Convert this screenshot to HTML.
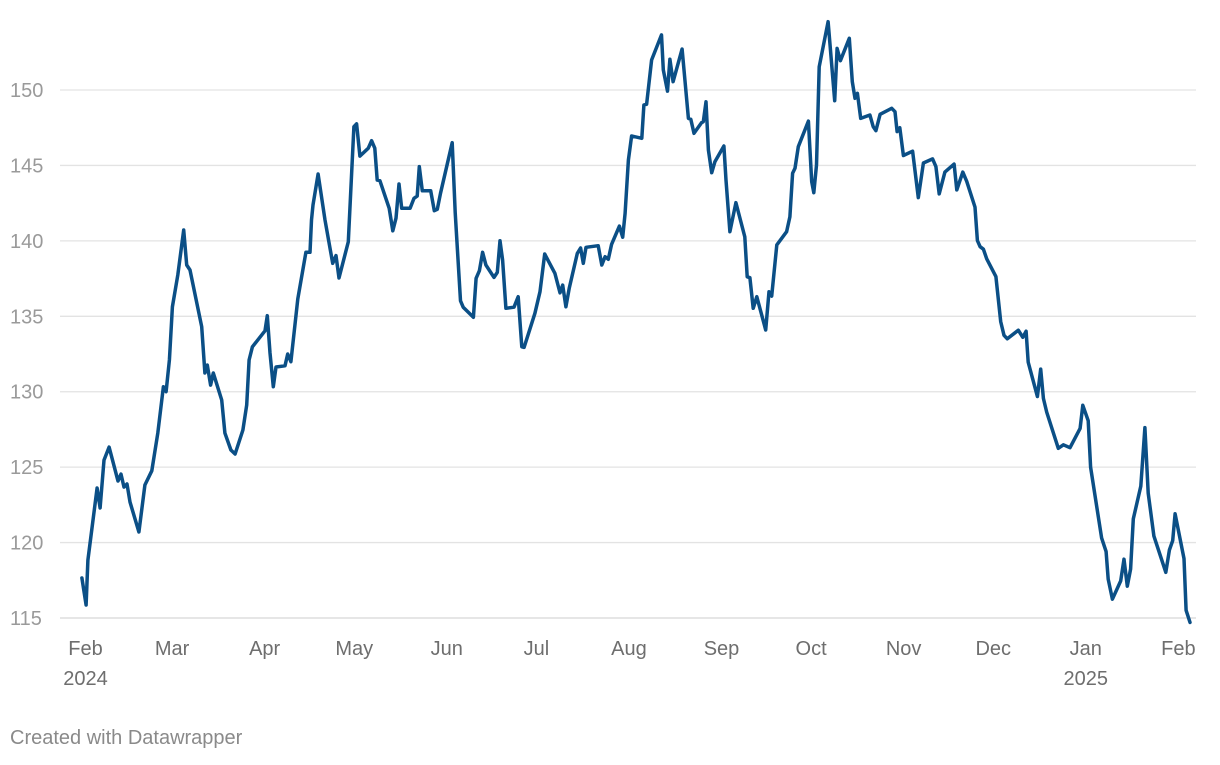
<!DOCTYPE html>
<html><head><meta charset="utf-8">
<style>
body{margin:0;background:#fff;width:1220px;height:760px;overflow:hidden;font-family:"Liberation Sans",Arial,sans-serif;}
svg text{font-family:"Liberation Sans",Arial,sans-serif;}
</style></head>
<body>
<svg id="chart" width="1220" height="760" xmlns="http://www.w3.org/2000/svg">
<g id="grid"></g>
<g id="yaxis"></g>
<g id="xaxis"></g>
<path id="line" fill="none" stroke="#0b4f86" stroke-width="3.5" stroke-linejoin="round" stroke-linecap="round"></path>
<text x="10" y="744" font-size="20" fill="#8a8a8a">Created with Datawrapper</text>
</svg>
<script>
// days since Feb 1 2024
const days = [-1.2,0.2,0.8,3.9,4.9,6.2,7.9,10.9,11.9,12.9,13.9,14.9,17.9,19.9,22.2,24.2,26.1,27.0,28.1,29.1,30.9,32.9,33.9,35.0,38.9,40.0,40.8,41.9,42.8,45.6,46.7,48.7,50.1,52.7,54.0,54.8,55.9,60.1,60.9,61.8,62.9,63.8,66.8,67.7,68.8,71.1,73.8,75.2,75.7,76.2,77.9,80.2,82.8,83.9,84.9,88.0,89.9,90.8,91.9,94.7,95.8,96.9,97.7,98.6,101.7,102.9,104.0,105.0,105.9,108.7,110.0,111.1,111.8,112.8,115.6,116.8,117.8,118.9,122.8,123.8,125.6,126.5,129.9,130.8,131.9,133.0,134.1,136.8,137.9,138.8,139.7,140.8,143.5,144.9,146.1,146.9,150.5,152.2,153.8,157.2,158.9,159.8,160.9,162.0,164.7,165.8,166.7,167.6,171.7,172.9,174.0,175.1,176.2,178.8,179.9,180.7,181.8,182.9,186.3,187.0,187.9,189.6,192.9,193.5,194.9,195.7,196.8,199.8,201.9,202.7,203.8,206.3,206.9,207.8,208.6,209.7,210.8,213.8,214.5,215.8,217.8,220.8,221.6,222.5,223.6,224.8,227.8,228.9,229.8,231.5,234.8,235.9,236.8,237.6,238.7,242.1,243.2,243.9,244.8,245.7,248.7,250.9,251.7,252.8,255.8,256.8,257.7,258.5,259.6,262.7,263.8,264.7,266.1,270.0,271.1,271.8,272.7,273.9,277.0,278.9,280.6,283.7,284.8,285.9,287.8,290.9,291.8,293.8,295.1,297.9,298.7,299.6,300.7,301.8,304.9,306.5,307.6,308.7,312.4,313.9,315.0,315.7,318.8,319.9,320.8,321.9,325.8,327.5,329.7,333.1,334.0,335.8,336.6,340.3,341.8,342.5,343.9,346.7,347.8,348.9,350.0,350.9,353.4,354.8,355.9,357.8,361.8,363.0,364.1,364.9,367.9,368.6,369.9];
const prices = [117.65,115.86,118.84,123.62,122.29,125.47,126.33,124.08,124.54,123.68,123.88,122.69,120.70,123.82,124.76,127.26,130.33,130.0,132.1,135.63,137.74,140.72,138.4,138.07,134.31,131.24,131.77,130.44,131.24,129.45,127.26,126.14,125.87,127.46,129.12,132.1,132.98,134.04,135.04,132.57,130.33,131.64,131.72,132.5,131.99,136.15,139.24,139.24,141.38,142.38,144.43,141.38,138.51,139.02,137.54,139.94,147.57,147.75,145.62,146.14,146.64,146.14,144.03,143.99,142.16,140.67,141.5,143.77,142.16,142.16,142.82,142.97,144.92,143.32,143.32,142.0,142.09,143.15,146.51,141.87,136.03,135.6,134.93,137.52,138.02,139.24,138.4,137.58,137.91,140.01,138.73,135.53,135.6,136.3,132.98,132.94,135.2,136.63,139.13,137.85,136.56,137.07,135.63,136.85,139.17,139.53,138.51,139.57,139.68,138.4,138.95,138.78,139.77,140.98,140.24,141.83,145.36,146.95,146.8,149.01,149.05,151.99,153.65,151.33,149.93,152.04,150.55,152.72,148.12,148.06,147.13,147.83,147.9,149.22,146.02,144.52,145.25,146.29,144.03,140.61,142.53,140.27,137.62,137.56,135.53,136.3,134.09,136.63,136.34,139.73,140.61,141.6,144.48,144.81,146.24,147.94,143.92,143.19,145.03,151.54,154.53,149.29,152.76,151.94,153.43,150.55,149.45,149.78,148.12,148.34,147.57,147.3,148.39,148.79,148.56,147.24,147.5,145.66,145.94,142.87,145.16,145.43,144.92,143.11,144.56,145.09,143.38,144.56,143.95,142.24,140.02,139.61,139.45,138.81,137.63,134.65,133.74,133.51,134.08,133.61,134.01,131.96,129.68,131.5,129.56,128.65,126.25,126.48,126.29,127.57,129.1,128.08,125.0,120.31,119.4,117.57,116.25,117.46,118.9,117.11,118.25,121.57,123.74,127.62,123.28,120.43,118.03,119.51,120.13,121.91,118.94,115.51,114.71];
const yTicks = [115,120,125,130,135,140,145,150];
const monthDays = [0,29,60,90,121,151,182,213,243,274,304,335,366];
const monthLabels = ["Feb","Mar","Apr","May","Jun","Jul","Aug","Sep","Oct","Nov","Dec","Jan","Feb"];
const yearLabels = {0:"2024",11:"2025"};

const NS = "http://www.w3.org/2000/svg";
const x = d => 85.5 + d * 2.986;
const y = v => 90 + (150 - v) * 15.086;

const grid = document.getElementById('grid');
const yaxis = document.getElementById('yaxis');
yTicks.forEach(t => {
  const l = document.createElementNS(NS, 'line');
  
  
  l.setAttribute('x1', 60); l.setAttribute('x2', 1196);
  l.setAttribute('y1', y(t)); l.setAttribute('y2', y(t));
  l.setAttribute('stroke', t === 115 ? '#d6d6d6' : '#e3e3e3');
  l.setAttribute('stroke-width', 1.3);
  grid.appendChild(l);
  const tx = document.createElementNS(NS, 'text');
  
  
  tx.setAttribute('x', 10); tx.setAttribute('y', y(t) + 7);
  tx.setAttribute('font-size', '20'); tx.setAttribute('fill', '#9a9a9a');
  tx.textContent = t;
  yaxis.appendChild(tx);
});

const xaxis = document.getElementById('xaxis');
monthDays.forEach((d, i) => {
  const tx = document.createElementNS(NS, 'text');
  
  
  tx.setAttribute('x', x(d)); tx.setAttribute('y', 655);
  tx.setAttribute('text-anchor', 'middle');
  tx.setAttribute('font-size', '20'); tx.setAttribute('fill', '#6e6e6e');
  tx.textContent = monthLabels[i];
  xaxis.appendChild(tx);
  if (yearLabels[i]) {
    const yr = document.createElementNS(NS, 'text');
    
    
    yr.setAttribute('x', x(d)); yr.setAttribute('y', 685);
    yr.setAttribute('text-anchor', 'middle');
    yr.setAttribute('font-size', '20'); yr.setAttribute('fill', '#6e6e6e');
    yr.textContent = yearLabels[i];
    xaxis.appendChild(yr);
  }
});

let dstr = '';
days.forEach((d, i) => { dstr += (i ? 'L' : 'M') + x(d).toFixed(1) + ',' + y(prices[i]).toFixed(1); });
document.getElementById('line').setAttribute('d', dstr);
</script>
</body></html>
